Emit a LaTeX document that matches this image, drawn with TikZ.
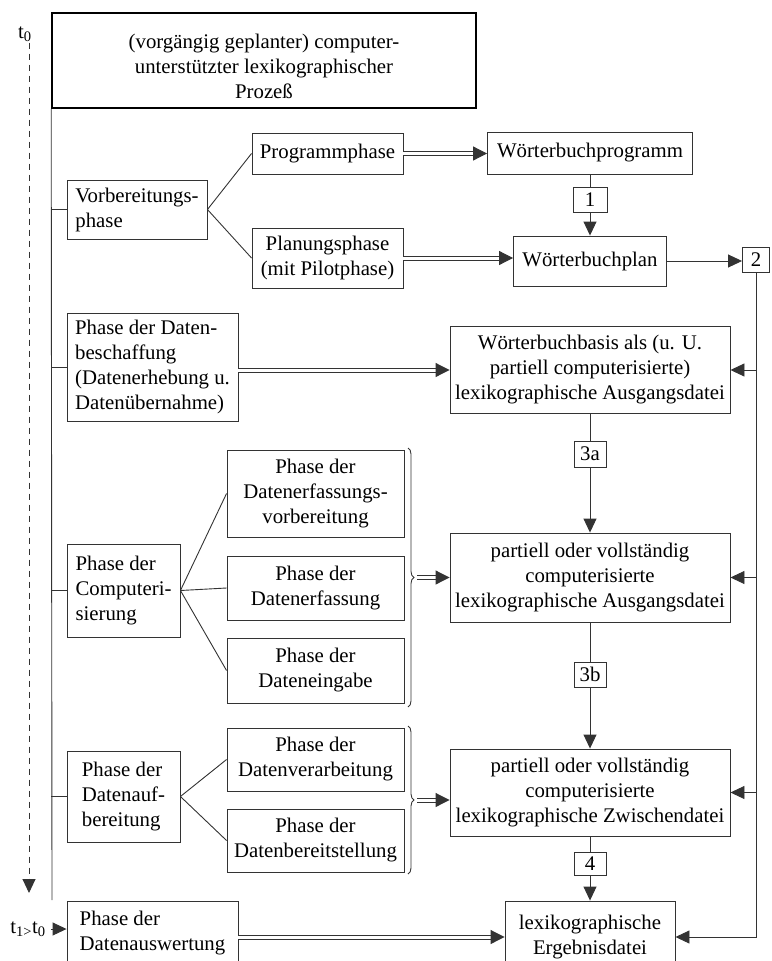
\documentclass[tikz,border=0pt]{standalone}
\usepackage{fontspec}
\setmainfont{Liberation Serif}
\usetikzlibrary{arrows.meta,decorations.pathreplacing}
\colorlet{lc}{black!80}
\newcommand\fsz{\fontsize{20.8}{25}\selectfont}
\tikzset{
  box/.style={draw=lc, line width=0.9pt, inner sep=0pt, font=\fsz, align=center},
  lbox/.style={box, align=left},
  lbl/.style={font=\fsz, inner sep=1pt},
  ln/.style={draw=lc, line width=0.9pt},
  tipA/.tip={Triangle[length=14pt,width=13pt]},
  arr/.style={ln, -tipA},
  dbl/.style={draw=lc, line width=1pt, double distance=3pt, -{Triangle[length=14pt,width=14pt]}},
  bracepath/.style={ln, decorate, decoration={brace, amplitude=6pt}},
}
\begin{document}
\begin{tikzpicture}[x=1pt,y=-1pt]
\clip (0,0) rectangle (771,961);
\useasboundingbox (0,0) rectangle (771,961);

% top box
\node[draw=black, line width=1.6pt, minimum width=424pt, minimum height=95pt, inner sep=0pt] (top) at (264,60.5) {};
\node[lbl, align=center] (toptxt) at (264,66) {(vorgängig geplanter) computer-\\unterstützter lexikographischer\\Prozeß};

% left column
\node[lbox, minimum width=140pt, minimum height=59pt] (vorb) at (137,209.5) {Vorbereitungs-\\phase};
\node[box, minimum width=151pt, minimum height=41pt] (prog) at (327.5,153.5) {Programmphase};
\node[box, minimum width=151pt, minimum height=60pt] (plan) at (327.5,258) {Planungsphase\\(mit Pilotphase)};
\node[lbox, minimum width=171pt, minimum height=108pt] (besch) at (152.5,367) {Phase der Daten-\\beschaffung\\(Datenerhebung u.\\Datenübernahme)};
\node[lbox, minimum width=113pt, minimum height=93pt] (comp) at (123.5,590.5) {Phase der\\Computeri-\\sierung};
\node[box, minimum width=177pt, minimum height=87pt] (erfv) at (315.5,493.5) {Phase der\\Datenerfassungs-\\vorbereitung};
\node[box, minimum width=177pt, minimum height=64pt] (erf) at (315.5,588) {Phase der\\Datenerfassung};
\node[box, minimum width=177pt, minimum height=65pt] (eing) at (315.5,670.5) {Phase der\\Dateneingabe};
\node[lbox, minimum width=113pt, minimum height=91pt] (aufb) at (123.5,796.5) {Phase der\\Datenauf-\\bereitung};
\node[box, minimum width=177pt, minimum height=63pt] (verarb) at (315.5,759.5) {Phase der\\Datenverarbeitung};
\node[box, minimum width=177pt, minimum height=63pt] (bereit) at (315.5,840.5) {Phase der\\Datenbereitstellung};
\node[lbox, minimum width=171pt, minimum height=64pt] (ausw) at (152.5,933) {Phase der\\Datenauswertung};

% right column
\node[box, minimum width=205pt, minimum height=42pt] (wprog) at (590,153) {Wörterbuchprogramm};
\node[box, minimum width=34pt, minimum height=25pt] (n1) at (590,199.5) {1};
\node[box, minimum width=153pt, minimum height=50pt] (wplan) at (590,261) {Wörterbuchplan};
\node[box, minimum width=27pt, minimum height=25pt] (n2) at (756,260) {2};
\node[box, minimum width=280pt, minimum height=87pt] (wbas) at (590,370) {Wörterbuchbasis als (u. U.\\partiell computerisierte)\\lexikographische Ausgangsdatei};
\node[box, minimum width=32pt, minimum height=26pt] (n3a) at (590,454) {3a};
\node[box, minimum width=280pt, minimum height=89pt] (ausg) at (590,577.5) {partiell oder vollständig\\computerisierte\\lexikographische Ausgangsdatei};
\node[box, minimum width=32pt, minimum height=25pt] (n3b) at (590,674.5) {3b};
\node[box, minimum width=280pt, minimum height=87pt] (zw) at (590,792.5) {partiell oder vollständig\\computerisierte\\lexikographische Zwischendatei};
\node[box, minimum width=32pt, minimum height=23pt] (n4) at (590,863.5) {4};
\node[box, minimum width=170pt, minimum height=72pt] (erg) at (590,937) {lexikographische\\Ergebnisdatei};

% time axis
\node[lbl] (t0) at (25,34) {t\textsubscript{0}};
\coordinate (tend) at (29,893);
\draw[lc, line width=0.9pt, dash pattern=on 6pt off 5pt, -tipA] (t0.south -| tend) -- (tend);
\node[lbl] (t1) at (28,929) {t\textsubscript{1>}t\textsubscript{0}};
\draw[arr, shorten <=4pt] (t1.east) -- (t1.east -| ausw.west);

% spine
\coordinate (spend) at (52,900);
\draw[ln] (top.south west) -- (spend);
\foreach \n in {vorb,besch,comp,aufb} \draw[ln] (\n.west -| top.south west) -- (\n.west);

% branches
\draw[ln] (vorb.east) -- (prog.west);
\draw[ln] (vorb.east) -- (plan.west);
\draw[ln] (comp.east) -- (erfv.west);
\draw[ln] (comp.east) -- (erf.west);
\draw[ln] (comp.east) -- (eing.west);
\draw[ln] (aufb.east) -- (verarb.west);
\draw[ln] (aufb.east) -- (bereit.west);

% braces
\coordinate (br1a) at (408,448);
\coordinate (br1b) at (408,707);
\coordinate (br1) at (417,577.5);
\draw[bracepath] (br1a) -- (br1b);
\coordinate (br2a) at (408,726);
\coordinate (br2b) at (408,874);
\coordinate (br2) at (417,800);
\draw[bracepath] (br2a) -- (br2b);

% double arrows
\draw[dbl] (prog.east) -- (prog.east -| wprog.west);
\draw[dbl] (plan.east) -- (plan.east -| wplan.west);
\draw[dbl] (besch.east |- wbas.west) -- (wbas.west);
\draw[dbl] (br1) -- (br1 -| ausg.west);
\draw[dbl] (br2) -- (br2 -| zw.west);
\draw[dbl] (ausw.east |- erg.west) -- (erg.west);

% right column flow
\draw[ln] (wprog.south) -- (n1.north);
\draw[arr] (n1.south) -- (wplan.north);
\draw[arr] (wplan.east) -- (wplan.east -| n2.west);
\draw[ln] (wbas.south) -- (n3a.north);
\draw[arr] (n3a.south) -- (ausg.north);
\draw[ln] (ausg.south) -- (n3b.north);
\draw[arr] (n3b.south) -- (zw.north);
\draw[ln] (zw.south) -- (n4.north);
\draw[arr] (n4.south) -- (erg.north);
\draw[arr] (n2.south) -- (n2.south |- erg.east) -- (erg.east);
\foreach \n in {wbas,ausg,zw} \draw[arr] (n2.south |- \n.east) -- (\n.east);
\end{tikzpicture}
\end{document}
